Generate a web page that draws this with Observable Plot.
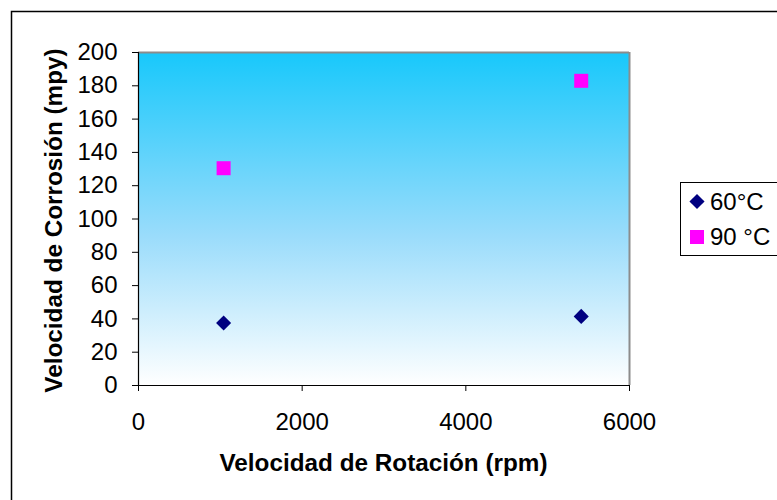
<!DOCTYPE html>
<html>
<head>
<meta charset="utf-8">
<script src="https://cdn.jsdelivr.net/npm/d3@7"></script>
<script src="https://cdn.jsdelivr.net/npm/@observablehq/plot@0.6"></script>
<style>
  html, body { margin: 0; padding: 0; background: #fff; }
</style>
</head>
<body>
<div id="chart"></div>
<script>
// Corrosion rate (mpy) against rotation speed (rpm) at two temperatures
const seriesNames = ["60°C", "90 °C"];
const seriesColors = ["#000080", "#ff00ff"];
const seriesSymbols = ["diamond2", "square"];

const rpm60 = [1040, 5410];
const mpy60 = [37.5, 41.5];
const rpm90 = [1040, 5410];
const mpy90 = [130.5, 183];

const xTicks = [0, 2000, 4000, 6000];
const yTicks = [0, 20, 40, 60, 80, 100, 120, 140, 160, 180, 200];

const xTitle = "Velocidad de Rotación (rpm)";
const yTitle = "Velocidad de Corrosión (mpy)";

const d60 = rpm60.map((x, i) => ({x, y: mpy60[i]}));
const d90 = rpm90.map((x, i) => ({x, y: mpy90[i]}));

const W = 777, H = 500;
const mL = 138, mR = 148, mT = 52, mB = 115;
const font = "'Liberation Sans', Arial, Helvetica, sans-serif";

const svg = Plot.plot({
  width: W,
  height: H,
  marginLeft: mL,
  marginRight: mR,
  marginTop: mT,
  marginBottom: mB,
  style: {fontFamily: font, fontSize: "24px", color: "#000", background: "transparent", overflow: "visible"},
  x: {domain: [0, 6000]},
  y: {domain: [0, 200]},
  marks: [
    Plot.frame({fill: "url(#plotBg)", stroke: null}),
    Plot.ruleY([200], {stroke: "#8c8c8c", strokeWidth: 2}),
    Plot.ruleX([6000], {stroke: "#8c8c8c", strokeWidth: 2}),
    Plot.axisY({ticks: yTicks, tickSize: 6, tickPadding: 15, label: null, tickFormat: d3.format("d"), fontSize: 24}),
    Plot.axisX({ticks: xTicks, tickSize: 6, tickPadding: 21, label: null, tickFormat: d3.format("d"), fontSize: 24}),
    Plot.ruleX([0], {stroke: "#000", strokeWidth: 1.2}),
    Plot.ruleY([0], {stroke: "#000", strokeWidth: 1.2}),
    Plot.dot(d60, {x: "x", y: "y", symbol: seriesSymbols[0], r: 6.8, fill: seriesColors[0], stroke: null}),
    Plot.dot(d90, {x: "x", y: "y", symbol: seriesSymbols[1], r: 7.9, fill: seriesColors[1], stroke: null})
  ]
});

const root = d3.select(svg);

// sky-to-white vertical gradient for the plotting area
const grad = root.insert("defs", ":first-child")
  .append("linearGradient")
  .attr("id", "plotBg")
  .attr("x1", 0).attr("y1", 0).attr("x2", 0).attr("y2", 1);
grad.append("stop").attr("offset", "0%").attr("stop-color", "#18c8fb");
grad.append("stop").attr("offset", "55%").attr("stop-color", "#9adcfb");
grad.append("stop").attr("offset", "100%").attr("stop-color", "#ffffff");

// outer chart border
root.append("rect")
  .attr("x", 11.5).attr("y", 11.5)
  .attr("width", 820).attr("height", 520)
  .attr("fill", "none").attr("stroke", "#000").attr("stroke-width", 1.5);

// axis titles
root.append("text")
  .attr("x", mL + (W - mL - mR) / 2).attr("y", 471)
  .attr("text-anchor", "middle")
  .attr("font-family", font).attr("font-size", 24.3).attr("font-weight", "bold")
  .text(xTitle);

root.append("text")
  .attr("transform", `translate(62,${mT + (H - mT - mB) / 2 + 2}) rotate(-90)`)
  .attr("text-anchor", "middle")
  .attr("font-family", font).attr("font-size", 24.3).attr("font-weight", "bold")
  .text(yTitle);

// legend
const lg = root.append("g");
lg.append("rect")
  .attr("x", 680.5).attr("y", 182.5)
  .attr("width", 120).attr("height", 73)
  .attr("fill", "#fff").attr("stroke", "#000").attr("stroke-width", 1);

const symbolType = {diamond2: d3.symbolDiamond2, square: d3.symbolSquare};
const symbolSize = [Math.PI * 6.8 * 6.8, Math.PI * 7.9 * 7.9];
const rowY = [201.5, 237];
seriesNames.forEach((name, i) => {
  lg.append("path")
    .attr("transform", `translate(697,${rowY[i]})`)
    .attr("d", d3.symbol(symbolType[seriesSymbols[i]], symbolSize[i])())
    .attr("fill", seriesColors[i]);
  lg.append("text")
    .attr("x", 710).attr("y", rowY[i] + 8)
    .attr("text-anchor", "start")
    .attr("font-family", font).attr("font-size", 24)
    .text(name);
});

document.getElementById("chart").appendChild(svg);
</script>
</body>
</html>
